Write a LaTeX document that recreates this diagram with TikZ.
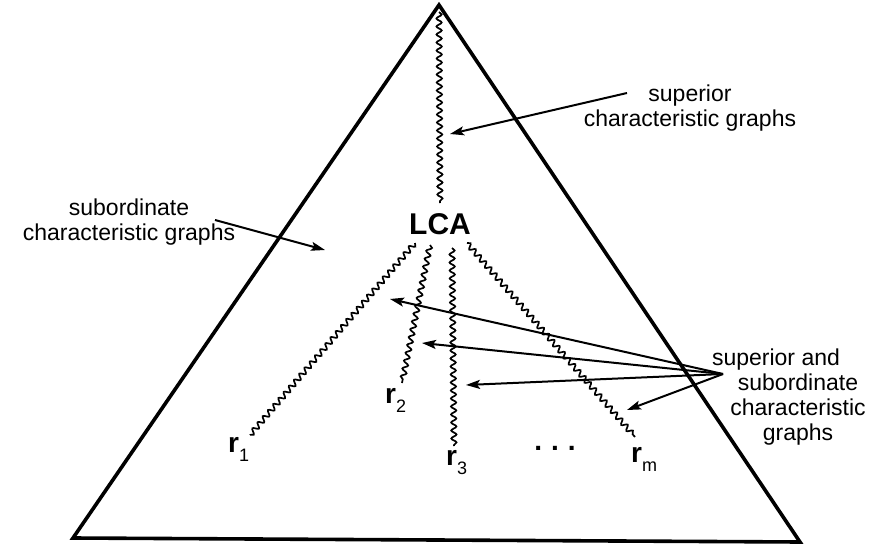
\documentclass[tikz,border=0pt]{standalone}
\usepackage{fontspec}
\setmainfont{Liberation Sans}
\usetikzlibrary{arrows.meta,decorations.pathmorphing}

\newcommand{\leafr}[1]{r\raisebox{-9pt}{\mdseries\fontsize{18}{18}\selectfont #1}}

\begin{document}
\begin{tikzpicture}[
  x=1pt, y=-1pt,
  edge/.style={line width=3.6pt, line join=miter},
  wig/.style={line width=1.7pt, decorate,
              decoration={snake, segment length=8pt, amplitude=2.6pt}},
  arr/.style={-{Stealth[length=14pt, width=9pt, inset=3pt]}, line width=2pt},
  lbl/.style={align=center, inner sep=0pt, font=\fontsize{23}{25}\selectfont},
  leaf/.style={anchor=base west, inner sep=0pt, font=\fontsize{28}{30}\selectfont\bfseries}
]
\useasboundingbox (0,0) rectangle (873,546);
\coordinate (top) at (439,5);
\coordinate (bl) at (73,538);
\coordinate (br) at (800,542);
\draw[edge] (top) -- (bl) -- (br) -- cycle;

\node[inner sep=0pt, font=\fontsize{30}{30}\selectfont\bfseries] (lca) at (440,224) {LCA};

\coordinate (t0) at (439,12);
\coordinate (t1) at (440,203);
\draw[wig] (t0) -- (t1);

\coordinate (s1) at (415,243);
\coordinate (s2) at (430,245);
\coordinate (s3) at (452,248);
\coordinate (s4) at (467,243);
\coordinate (e1) at (250,435);
\coordinate (e2) at (402,383);
\coordinate (e3) at (454,446);
\coordinate (e4) at (635,437);
\foreach \i in {1,...,4}
  \draw[wig] (s\i) -- (e\i);

\node[leaf] (r1) at (228,452) {\leafr{1}};
\node[leaf] (r2) at (385,403) {\leafr{2}};
\node[leaf] (r3) at (446,465) {\leafr{3}};
\node[leaf] (rm) at (631,462) {\leafr{m}};
\node[inner sep=0pt, font=\fontsize{28}{30}\selectfont\bfseries] (dots) at (555,448) {.\hspace{9pt}.\hspace{9pt}.};

\node[lbl] (sup) at (690,108) {superior\\characteristic graphs};
\node[lbl] (sub) at (129,222) {subordinate\\characteristic graphs};
\node[lbl] (both) at (798,397) {superior and\hspace*{44pt}\\subordinate\\characteristic\\graphs};

\coordinate (a0) at (627,93);
\coordinate (a1) at (450,134);
\draw[arr] (a0) -- (a1);
\coordinate (b0) at (215,220);
\coordinate (b1) at (325,250);
\draw[arr] (b0) -- (b1);

\coordinate (src) at (723,374);
\coordinate (p1) at (390,299);
\coordinate (p2) at (422,343);
\coordinate (p3) at (466,385);
\coordinate (p4) at (627,410);
\foreach \i in {1,...,4}
  \draw[arr] (src) -- (p\i);
\end{tikzpicture}
\end{document}
